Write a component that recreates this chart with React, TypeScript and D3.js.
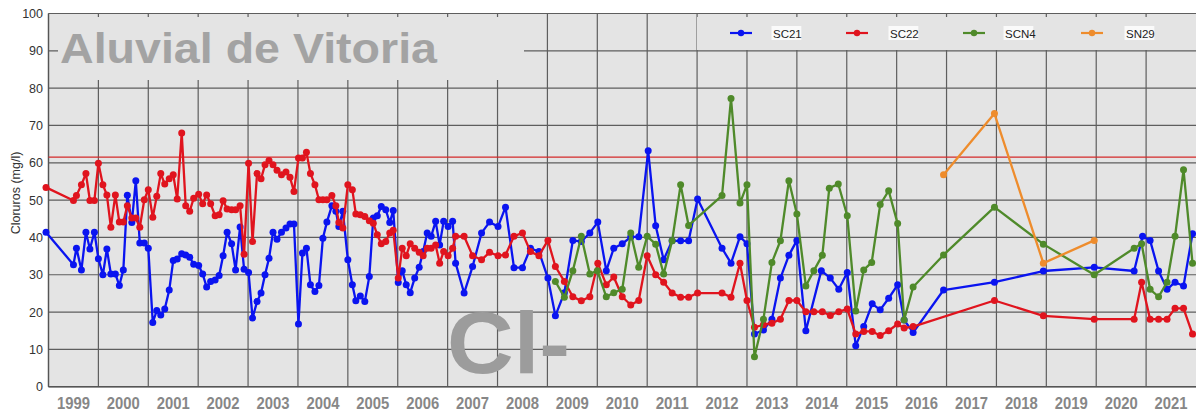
import React from "react";
import * as d3 from "d3";

// ---- data (decimal year, chloride mg/l) ----
const SC21: [number, number][] = [
  [1998.95, 41.4], [1999.5, 32.7], [1999.56, 37.1], [1999.66, 31.3], [1999.75, 41.4], [1999.83, 36.9], [1999.92, 41.4],
  [2000.0, 34.3], [2000.09, 30.0], [2000.17, 36.9], [2000.25, 30.2], [2000.34, 30.2], [2000.42, 27.1], [2000.5, 31.3],
  [2000.58, 51.3], [2000.67, 44.0], [2000.75, 55.2], [2000.83, 38.5], [2000.92, 38.5], [2001.0, 37.1], [2001.09, 17.2],
  [2001.17, 20.4], [2001.25, 19.2], [2001.33, 20.8], [2001.42, 25.9], [2001.5, 33.8], [2001.58, 34.2], [2001.67, 35.6],
  [2001.75, 35.3], [2001.83, 34.7], [2001.91, 32.8], [2002.01, 32.5], [2002.09, 30.2], [2002.17, 26.7], [2002.25, 28.2],
  [2002.34, 28.6], [2002.42, 29.8], [2002.5, 35.1], [2002.58, 41.4], [2002.67, 38.3], [2002.75, 31.3], [2002.84, 42.8],
  [2002.92, 31.5], [2003.01, 30.6], [2003.09, 18.4], [2003.18, 22.8], [2003.26, 25.1], [2003.34, 30.0], [2003.42, 34.4],
  [2003.5, 41.4], [2003.58, 39.5], [2003.67, 41.4], [2003.76, 42.5], [2003.84, 43.6], [2003.92, 43.6], [2004.01, 16.8],
  [2004.09, 35.8], [2004.17, 37.1], [2004.25, 27.3], [2004.34, 25.5], [2004.42, 27.1], [2004.5, 39.8], [2004.58, 44.1],
  [2004.68, 48.5], [2004.76, 47.0], [2004.82, 42.9], [2004.9, 47.0], [2005.0, 34.0], [2005.09, 27.3], [2005.16, 23.0],
  [2005.25, 24.3], [2005.34, 22.8], [2005.43, 29.5], [2005.51, 45.2], [2005.59, 45.8], [2005.67, 48.3], [2005.76, 47.4],
  [2005.84, 44.0], [2005.91, 47.2], [2006.01, 27.9], [2006.09, 31.1], [2006.17, 27.3], [2006.25, 25.2], [2006.34, 29.1],
  [2006.43, 32.0], [2006.51, 36.2], [2006.59, 41.2], [2006.67, 40.3], [2006.76, 44.3], [2006.84, 38.0], [2006.92, 44.3],
  [2007.01, 42.9], [2007.1, 44.3], [2007.16, 33.1], [2007.33, 25.1], [2007.5, 32.2], [2007.68, 41.2], [2007.84, 44.1],
  [2008.01, 42.9], [2008.16, 48.1], [2008.33, 31.9], [2008.5, 31.9], [2008.66, 37.1], [2008.83, 36.2], [2009.01, 29.1],
  [2009.16, 19.0], [2009.34, 25.2], [2009.51, 39.2], [2009.68, 38.9], [2009.85, 41.2], [2010.01, 44.1], [2010.18, 31.1],
  [2010.33, 37.1], [2010.5, 38.3], [2010.67, 40.1], [2010.83, 40.2], [2011.02, 63.2], [2011.17, 43.1], [2011.33, 34.0],
  [2011.5, 39.1], [2011.67, 39.1], [2011.83, 39.1], [2012.01, 50.3], [2012.5, 37.1], [2012.68, 33.1], [2012.86, 40.2],
  [2013.0, 38.3], [2013.15, 14.1], [2013.33, 15.2], [2013.5, 18.1], [2013.67, 29.1], [2013.84, 35.2], [2014.0, 39.2],
  [2014.18, 15.0], [2014.49, 31.1], [2014.67, 29.1], [2014.84, 26.1], [2015.01, 30.6], [2015.18, 11.0], [2015.34, 16.1],
  [2015.51, 22.2], [2015.67, 20.6], [2015.84, 23.7], [2016.02, 27.3], [2016.15, 17.9], [2016.33, 14.5], [2016.94, 25.9],
  [2017.96, 28.0], [2018.94, 31.0], [2019.96, 32.0], [2020.76, 31.0], [2020.93, 40.3], [2021.08, 39.2], [2021.25, 31.0],
  [2021.42, 26.1], [2021.58, 28.0], [2021.75, 27.0], [2021.93, 41.0],
];

const SC22: [number, number][] = [
  [1998.95, 53.4], [1999.5, 49.9], [1999.56, 51.2], [1999.66, 54.1], [1999.75, 57.1], [1999.83, 49.9], [1999.92, 49.9],
  [2000.0, 59.9], [2000.09, 54.1], [2000.17, 51.4], [2000.25, 42.7], [2000.34, 51.4], [2000.42, 44.1], [2000.5, 44.1],
  [2000.58, 48.5], [2000.67, 45.2], [2000.75, 45.2], [2000.83, 42.7], [2000.92, 50.1], [2001.0, 52.8], [2001.09, 45.4],
  [2001.17, 51.0], [2001.25, 57.1], [2001.33, 54.3], [2001.42, 55.7], [2001.5, 56.8], [2001.58, 50.3], [2001.67, 68.0],
  [2001.75, 48.5], [2001.83, 47.0], [2001.91, 50.5], [2002.01, 51.6], [2002.09, 49.0], [2002.17, 51.4], [2002.25, 49.0],
  [2002.34, 45.8], [2002.42, 46.1], [2002.5, 49.8], [2002.58, 47.6], [2002.67, 47.4], [2002.75, 47.4], [2002.84, 48.5],
  [2002.92, 35.5], [2003.01, 59.9], [2003.09, 38.9], [2003.18, 57.1], [2003.26, 55.7], [2003.34, 59.5], [2003.42, 60.6],
  [2003.5, 59.5], [2003.58, 58.0], [2003.67, 56.8], [2003.76, 57.5], [2003.84, 56.1], [2003.92, 52.3], [2004.01, 61.3],
  [2004.09, 61.3], [2004.17, 62.8], [2004.25, 57.1], [2004.34, 54.1], [2004.42, 50.1], [2004.5, 50.1], [2004.58, 50.1],
  [2004.68, 51.2], [2004.76, 48.5], [2004.82, 44.0], [2004.9, 42.5], [2005.0, 54.1], [2005.09, 52.8], [2005.16, 46.3],
  [2005.25, 46.1], [2005.34, 45.6], [2005.43, 44.5], [2005.51, 43.8], [2005.59, 40.7], [2005.67, 38.3], [2005.76, 38.9],
  [2005.84, 41.2], [2005.91, 41.9], [2006.01, 29.1], [2006.09, 37.1], [2006.17, 35.1], [2006.25, 38.3], [2006.34, 37.1],
  [2006.43, 36.0], [2006.51, 35.1], [2006.59, 37.1], [2006.67, 37.1], [2006.76, 38.0], [2006.84, 33.1], [2006.92, 36.2],
  [2007.01, 35.1], [2007.1, 37.1], [2007.16, 40.3], [2007.33, 40.3], [2007.5, 35.1], [2007.68, 34.0], [2007.84, 36.0],
  [2008.01, 35.1], [2008.16, 35.3], [2008.33, 40.3], [2008.5, 41.2], [2008.66, 36.2], [2008.83, 35.1], [2009.01, 39.2],
  [2009.16, 32.2], [2009.34, 28.2], [2009.51, 24.1], [2009.68, 23.0], [2009.85, 24.1], [2010.01, 33.1], [2010.18, 27.3],
  [2010.33, 29.4], [2010.5, 24.1], [2010.67, 21.9], [2010.83, 23.1], [2011.0, 35.1], [2011.17, 30.0], [2011.33, 28.0],
  [2011.5, 25.1], [2011.67, 24.0], [2011.83, 24.0], [2012.01, 25.1], [2012.5, 25.1], [2012.68, 24.0], [2012.86, 33.1],
  [2013.0, 23.1], [2013.15, 15.9], [2013.33, 16.6], [2013.5, 17.0], [2013.67, 18.1], [2013.84, 23.1], [2014.0, 23.1],
  [2014.18, 20.1], [2014.34, 20.1], [2014.51, 20.1], [2014.67, 19.1], [2014.84, 20.1], [2015.01, 20.8], [2015.18, 14.1],
  [2015.34, 14.8], [2015.51, 14.8], [2015.67, 13.7], [2015.84, 15.0], [2016.02, 16.8], [2016.15, 15.7], [2016.33, 16.1],
  [2017.96, 23.1], [2018.94, 19.0], [2019.96, 18.1], [2020.76, 18.1], [2020.91, 28.0], [2021.08, 18.1], [2021.25, 18.1],
  [2021.42, 18.1], [2021.58, 21.0], [2021.75, 21.0], [2021.93, 14.1],
];

const SCN4: [number, number][] = [
  [2009.16, 28.2], [2009.34, 24.0], [2009.51, 31.1], [2009.68, 40.3], [2009.85, 30.2], [2010.0, 31.1], [2010.18, 24.1],
  [2010.33, 25.2], [2010.5, 26.1], [2010.67, 41.2], [2010.83, 32.0], [2011.0, 40.3], [2011.17, 38.2], [2011.33, 30.2],
  [2011.5, 39.1], [2011.67, 54.1], [2011.83, 43.2], [2012.5, 51.2], [2012.68, 77.2], [2012.86, 49.2], [2013.0, 54.1],
  [2013.15, 8.05], [2013.33, 18.1], [2013.5, 33.3], [2013.67, 39.1], [2013.84, 55.2], [2014.0, 46.3], [2014.18, 27.0],
  [2014.34, 31.1], [2014.51, 35.2], [2014.65, 53.2], [2014.83, 54.3], [2015.01, 45.8], [2015.18, 20.3], [2015.34, 31.3],
  [2015.5, 33.3], [2015.67, 48.8], [2015.84, 52.5], [2016.02, 43.7], [2016.15, 17.9], [2016.33, 26.7], [2016.94, 35.3],
  [2017.96, 48.1], [2018.94, 38.2], [2019.96, 30.0], [2020.76, 37.1], [2020.91, 38.3], [2021.08, 26.1], [2021.25, 24.1],
  [2021.42, 28.0], [2021.58, 40.3], [2021.75, 58.1], [2021.93, 33.1],
];

const SN29: [number, number][] = [
  [2016.94, 56.8], [2017.96, 73.2], [2018.94, 33.1], [2019.96, 39.2],
];

const SERIES_NAMES = ["SC21", "SC22", "SCN4", "SN29"];
const SERIES_COLORS = ["#0a14f0", "#e0141e", "#4f8a2a", "#ee8c2c"];
const SERIES_DATA = [SC21, SC22, SCN4, SN29];

const YEARS = d3.range(1999, 2022);
const Y_TICKS = d3.range(0, 101, 10);
const THRESHOLD = 61.5;
const TITLE = "Aluvial de Vitoria";
const Y_LABEL = "Cloruros (mg/l)";
const ION = "Cl-";

const W = 1196;
const H = 413;

export default function App() {
  const x = d3.scaleLinear().domain([1999, 2022]).range([48.5, 1196]);
  const y = d3.scaleLinear().domain([0, 100]).range([386.7, 13.5]);
  const line = d3
    .line<[number, number]>()
    .x((d) => x(d[0]))
    .y((d) => y(d[1]));

  const left = x(1999);
  const right = x(2022);
  const gridColor = "#5e5e5e";
  const legendX = [741, 857, 974, 1092];
  const legendLabelX = [773, 890, 1005, 1126];

  return (
    <svg
      width={W}
      height={H}
      style={{ position: "absolute", left: 0, top: 0, background: "#fff" }}
      fontFamily="'Liberation Sans', Arial, sans-serif"
    >
      {/* plot background */}
      <rect x={left} y={y(100)} width={right - left} height={y(0) - y(100)} fill="#e4e4e4" />

      {/* horizontal grid */}
      {Y_TICKS.map((t) => (
        <line key={"h" + t} x1={left} x2={right} y1={y(t)} y2={y(t)} stroke={gridColor} strokeWidth={1.2} />
      ))}
      {/* vertical grid (year boundaries) */}
      {YEARS.map((yr) => (
        <line key={"v" + yr} x1={x(yr)} x2={x(yr)} y1={y(100)} y2={y(0)} stroke={gridColor} strokeWidth={1.2} />
      ))}

      {/* title box & legend box covering grid */}
      <rect x={58} y={17} width={466} height={63} fill="#e4e4e4" />
      <rect x={697} y={17} width={491} height={33} fill="#e4e4e4" />

      <text
        x={60}
        y={63}
        fontSize={43}
        fontWeight="bold"
        fill="#a3a3a3"
        textLength={377}
        lengthAdjust="spacingAndGlyphs"
      >
        {TITLE}
      </text>

      {/* big ion label */}
      <text
        x={447}
        y={373}
        fontSize={88}
        fontWeight="bold"
        fill="#9c9c9c"
        textLength={123}
        lengthAdjust="spacingAndGlyphs"
      >
        {ION}
      </text>

      {/* axes */}
      <line x1={left} x2={left} y1={y(100)} y2={y(0)} stroke="#555" strokeWidth={1.3} />
      <line x1={left} x2={right} y1={y(0)} y2={y(0)} stroke="#555" strokeWidth={1.6} />

      {/* threshold */}
      <line x1={left} x2={right} y1={y(THRESHOLD)} y2={y(THRESHOLD)} stroke="#d42a2a" strokeWidth={1.2} />

      {/* series */}
      {SERIES_DATA.map((data, i) => (
        <g key={SERIES_NAMES[i]}>
          <path d={line(data) || ""} fill="none" stroke={SERIES_COLORS[i]} strokeWidth={2.3} strokeLinejoin="round" />
          {data.map((d, j) => (
            <circle key={j} cx={x(d[0])} cy={y(d[1])} r={3.5} fill={SERIES_COLORS[i]} />
          ))}
        </g>
      ))}

      {/* y tick labels */}
      {Y_TICKS.map((t) => (
        <text key={"yl" + t} x={43} y={y(t) + 4.5} fontSize={12.5} fill="#333" textAnchor="end">
          {t}
        </text>
      ))}

      {/* y axis title */}
      <text
        transform={`translate(${20},${193}) rotate(-90)`}
        fontSize={12.5}
        fill="#333"
        textAnchor="middle"
      >
        {Y_LABEL}
      </text>

      {/* year labels */}
      {YEARS.map((yr) => (
        <text
          key={"xl" + yr}
          x={x(yr + 0.5)}
          y={408.5}
          fontSize={17}
          fontWeight="bold"
          fill="#878787"
          textAnchor="middle"
          textLength={33}
          lengthAdjust="spacingAndGlyphs"
        >
          {yr}
        </text>
      ))}

      {/* legend */}
      {SERIES_NAMES.map((name, i) => (
        <g key={"lg" + name}>
          <line x1={legendX[i] - 11} x2={legendX[i] + 11} y1={33} y2={33} stroke={SERIES_COLORS[i]} strokeWidth={2.2} />
          <circle cx={legendX[i]} cy={33} r={3.2} fill={SERIES_COLORS[i]} />
          <rect x={legendLabelX[i] - 1.5} y={26} width={name.length * 7.2 + 1} height={14} fill="#fafafa" />
          <text x={legendLabelX[i]} y={37.5} fontSize={11.5} fill="#222">
            {name}
          </text>
        </g>
      ))}
    </svg>
  );
}
